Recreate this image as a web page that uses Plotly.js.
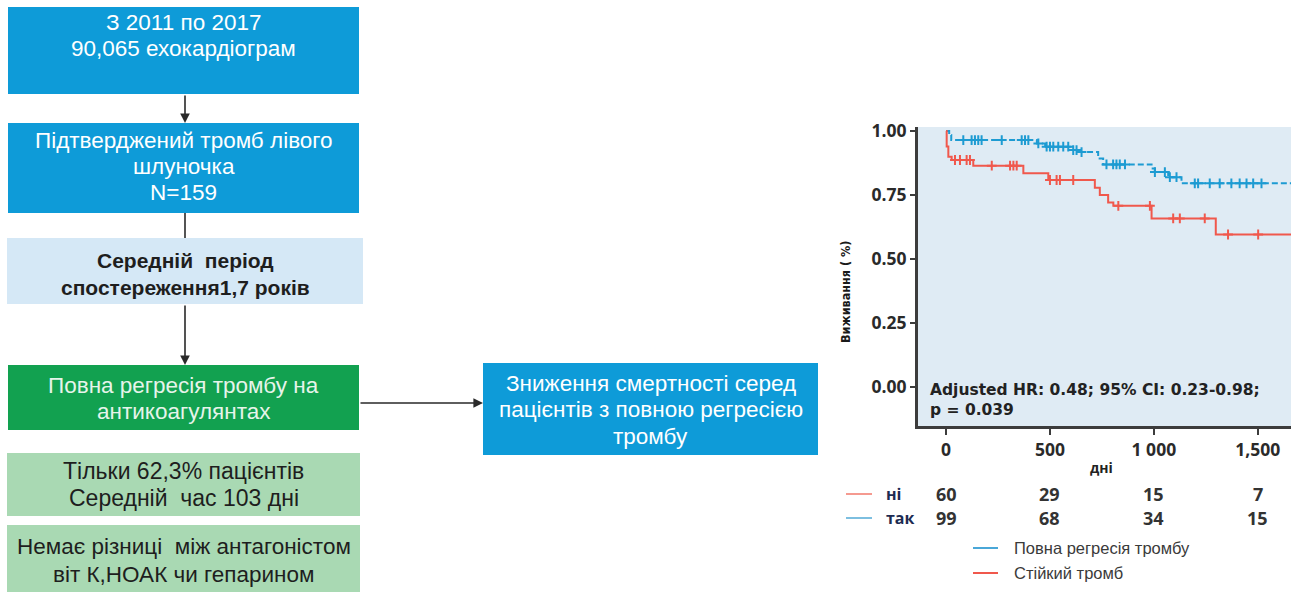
<!DOCTYPE html>
<html>
<head>
<meta charset="utf-8">
<script src="https://cdn.plot.ly/plotly-3.0.1.min.js"></script>
<style>
  html, body { margin: 0; padding: 0; background: #ffffff; }
  #chart { width: 1293px; height: 592px; }
</style>
</head>
<body>
<div id="chart"></div>
<script>
// ---- Kaplan–Meier data (days, survival proportion) ----
// Persistent thrombus (стійкий тромб)
const persistTimes = [0, 3, 11, 27, 131, 372, 492, 716, 740, 780, 805, 989, 1298, 1660];
const persistSurv  = [1.0, 0.94, 0.90, 0.887, 0.865, 0.835, 0.809, 0.779, 0.75, 0.721, 0.708, 0.659, 0.596, 0.596];
const persistCensor = [43, 67, 99, 115, 220, 308, 324, 340, 500, 532, 548, 612, 829, 981, 1093, 1125, 1245, 1357, 1502];

// Complete regression (повна регресія тромбу)
const regressTimes = [0, 15, 25, 437, 477, 604, 644, 732, 756, 989, 1005, 1069, 1133, 1660];
const regressSurv  = [1.0, 0.985, 0.965, 0.952, 0.939, 0.926, 0.918, 0.893, 0.87, 0.854, 0.84, 0.82, 0.796, 0.796];
const regressCensor = [83, 123, 139, 155, 171, 268, 364, 380, 396, 444, 484, 500, 516, 540, 564, 588,
                       612, 628, 652, 772, 804, 820, 836, 861, 1005, 1053, 1077, 1109,
                       1197, 1213, 1269, 1317, 1373, 1413, 1446, 1478, 1518];

// Numbers at risk
const riskTimes = [0, 500, 1000, 1500];
const riskNo    = [60, 29, 15, 7];
const riskYes   = [99, 68, 34, 15];
const riskLabels = ['ні', 'так'];

const xTickVals = [0, 500, 1000, 1500];
const xTickText = ['0', '500', '1 000', '1,500'];
const yTickVals = [0, 0.25, 0.5, 0.75, 1.0];

const hrText = ['Adjusted HR: 0.48; 95% CI: 0.23-0.98;', 'p = 0.039'];
const legendNames = ['Повна регресія тромбу', 'Стійкий тромб'];

// ---- Flowchart text ----
const boxTexts = [
  ['З 2011 по 2017', '90,065 ехокардіограм'],
  ['Підтверджений тромб лівого', 'шлуночка', 'N=159'],
  ['Середній  період', 'спостереження1,7 років'],
  ['Повна регресія тромбу на', 'антикоагулянтах'],
  ['Зниження смертності серед', 'пацієнтів з повною регресією', 'тромбу'],
  ['Тільки 62,3% пацієнтів', 'Середній  час 103 дні'],
  ['Немає різниці  між антагоністом', 'віт К,НОАК чи гепарином']
];

// ---- helpers ----
const W = 1293, H = 592;
const px = x => x / W;
const py = y => 1 - y / H;

function stepAt(times, surv, t) {
  let s = surv[0];
  for (let i = 0; i < times.length; i++) { if (times[i] <= t) s = surv[i]; }
  return s;
}

const RED = '#f0584c';
const BLUE = '#1d9bd2';
const TICK_FONT = {family: 'Open Sans, sans-serif', size: 17.5, color: '#2a2a2a', weight: 700};

// ---- box geometry & style ----
const BLUE_BOX = '#0e9bd8', PALE_BLUE = '#d5e8f6', GREEN = '#12a150', PALE_GREEN = '#a9d9b3';
const boxes = [
  {x0: 8, y0: 7,   x1: 359, y1: 94,  fill: BLUE_BOX,   color: '#ffffff', top: 22,  gap: 26,   size: 22.5, weight: 400},
  {x0: 8, y0: 123, x1: 359, y1: 213, fill: BLUE_BOX,   color: '#ffffff', top: 140, gap: 26.5, size: 22.5, weight: 400},
  {x0: 7, y0: 238, x1: 363, y1: 304, fill: PALE_BLUE,  color: '#1e1e1e', top: 260, gap: 27,   size: 21,   weight: 700},
  {x0: 8, y0: 365, x1: 359, y1: 430, fill: GREEN,      color: '#e6f4ea', top: 385, gap: 26.5, size: 22.5, weight: 400},
  {x0: 483, y0: 363, x1: 818, y1: 455, fill: BLUE_BOX, color: '#ffffff', top: 383, gap: 26.5, size: 22.5, weight: 400},
  {x0: 7, y0: 453, x1: 360, y1: 516, fill: PALE_GREEN, color: '#1e1e1e', top: 471, gap: 27,   size: 23,   weight: 400},
  {x0: 7, y0: 525, x1: 360, y1: 600, fill: PALE_GREEN, color: '#1e1e1e', top: 546, gap: 28,   size: 22.5, weight: 400}
];

const shapes = [];
const annotations = [];

boxes.forEach((b, i) => {
  shapes.push({type: 'rect', xref: 'paper', yref: 'paper',
    x0: px(b.x0), x1: px(b.x1), y0: py(b.y1), y1: py(b.y0),
    fillcolor: b.fill, line: {width: 0}, layer: 'below'});
  const cx = (b.x0 + b.x1) / 2;
  boxTexts[i].forEach((t, k) => {
    annotations.push({xref: 'paper', yref: 'paper', x: px(cx), y: py(b.top + k * b.gap),
      xanchor: 'center', yanchor: 'middle', showarrow: false, text: t,
      font: {family: 'Liberation Sans, Arial, sans-serif', size: b.size, color: b.color, weight: b.weight}});
  });
});

// connectors
function arrow(x0, y0, x1, y1) {
  annotations.push({xref: 'paper', yref: 'paper', x: px(x1), y: py(y1),
    ax: x0 - x1, ay: y0 - y1, axref: 'pixel', ayref: 'pixel', text: '',
    showarrow: true, arrowhead: 2, arrowsize: 1.2, arrowwidth: 1.6, arrowcolor: '#2a2a2a'});
}
arrow(185, 94, 185, 123);
shapes.push({type: 'line', xref: 'paper', yref: 'paper', x0: px(185), x1: px(185), y0: py(213), y1: py(238),
  line: {color: '#2a2a2a', width: 1.6}});
arrow(185, 304, 185, 365);
arrow(359, 403, 483, 403);

// ---- KM annotations ----
// hazard-ratio note, two lines in one text block
annotations.push({xref: 'x', yref: 'paper', x: -87, y: py(400), xanchor: 'left', yanchor: 'middle', align: 'left',
  showarrow: false, text: hrText.join('<br>'),
  font: {family: 'DejaVu Sans, sans-serif', size: 15.5, color: '#222', weight: 700}});

annotations.push({xref: 'paper', yref: 'paper', x: px(845), y: py(292), textangle: -90,
  xanchor: 'center', yanchor: 'middle', showarrow: false, text: 'Виживання ( %)',
  font: {family: 'DejaVu Sans Condensed, DejaVu Sans, sans-serif', size: 12.5, color: '#1a1a1a', weight: 700}});
annotations.push({xref: 'x', yref: 'paper', x: 750, y: py(467), xanchor: 'center', yanchor: 'middle',
  showarrow: false, text: 'дні', font: {family: 'Open Sans, sans-serif', size: 14, color: '#222', weight: 700}});

// numbers at risk
const riskRows = [riskNo, riskYes];
const riskY = [494, 518];
const riskLine = ['#f59a90', '#7dbfe0'];
riskRows.forEach((row, r) => {
  shapes.push({type: 'line', xref: 'paper', yref: 'paper', x0: px(846), x1: px(872), y0: py(riskY[r]), y1: py(riskY[r]),
    line: {color: riskLine[r], width: 2}});
  annotations.push({xref: 'paper', yref: 'paper', x: px(884), y: py(riskY[r]), xanchor: 'left', yanchor: 'middle',
    showarrow: false, text: riskLabels[r], font: {family: 'Open Sans, sans-serif', size: 16, color: '#1d2b52', weight: 700}});
  row.forEach((v, k) => {
    annotations.push({xref: 'x', yref: 'paper', x: riskTimes[k], y: py(riskY[r]), xanchor: 'center', yanchor: 'middle',
      showarrow: false, text: String(v), font: {family: 'Open Sans, sans-serif', size: 18, color: '#333', weight: 700}});
  });
});

// legend
const legY = [548, 573];
const legColor = ['#4aa7d8', '#f0584c'];
legendNames.forEach((n, i) => {
  shapes.push({type: 'line', xref: 'paper', yref: 'paper', x0: px(973), x1: px(998), y0: py(legY[i]), y1: py(legY[i]),
    line: {color: legColor[i], width: 2}});
  annotations.push({xref: 'paper', yref: 'paper', x: px(1012), y: py(legY[i]), xanchor: 'left', yanchor: 'middle',
    showarrow: false, text: n, font: {family: 'Liberation Sans Narrow, Arial Narrow, Liberation Sans, sans-serif', size: 16.5, color: '#3a3a3a'}});
});

// ---- traces ----
const traces = [
  {x: regressTimes, y: regressSurv, type: 'scatter', mode: 'lines', line: {shape: 'hv', color: BLUE, width: 2, dash: '6px,3px'},
   hoverinfo: 'skip', showlegend: false},
  {x: regressCensor, y: regressCensor.map(t => stepAt(regressTimes, regressSurv, t)), type: 'scatter', mode: 'markers',
   marker: {symbol: 'cross-thin', size: 7, line: {color: BLUE, width: 2}}, hoverinfo: 'skip', showlegend: false},
  {x: persistTimes, y: persistSurv, type: 'scatter', mode: 'lines', line: {shape: 'hv', color: RED, width: 2},
   hoverinfo: 'skip', showlegend: false},
  {x: persistCensor, y: persistCensor.map(t => stepAt(persistTimes, persistSurv, t)), type: 'scatter', mode: 'markers',
   marker: {symbol: 'cross-thin', size: 7, line: {color: RED, width: 2}}, hoverinfo: 'skip', showlegend: false}
];

const layout = {
  width: W, height: H,
  margin: {l: 0, r: 0, t: 0, b: 0},
  paper_bgcolor: '#ffffff',
  plot_bgcolor: '#dfebf4',
  showlegend: false,
  xaxis: {
    domain: [px(918), px(1291)], range: [-135, 1660],
    tickvals: xTickVals, ticktext: xTickText,
    showgrid: false, zeroline: false, showline: true, linecolor: '#3c3c3c', linewidth: 3,
    ticks: 'outside', ticklen: 6, tickwidth: 2, tickcolor: '#3c3c3c',
    tickfont: TICK_FONT
  },
  yaxis: {
    domain: [py(426), py(127)], range: [-0.152, 1.016],
    tickvals: yTickVals, tickformat: '.2f',
    showgrid: false, zeroline: false, showline: true, linecolor: '#3c3c3c', linewidth: 3,
    ticks: 'outside', ticklen: 5, tickwidth: 2, tickcolor: '#3c3c3c',
    tickfont: TICK_FONT
  },
  shapes: shapes,
  annotations: annotations
};

Plotly.newPlot('chart', traces, layout, {staticPlot: true, displayModeBar: false});
</script>
</body>
</html>
